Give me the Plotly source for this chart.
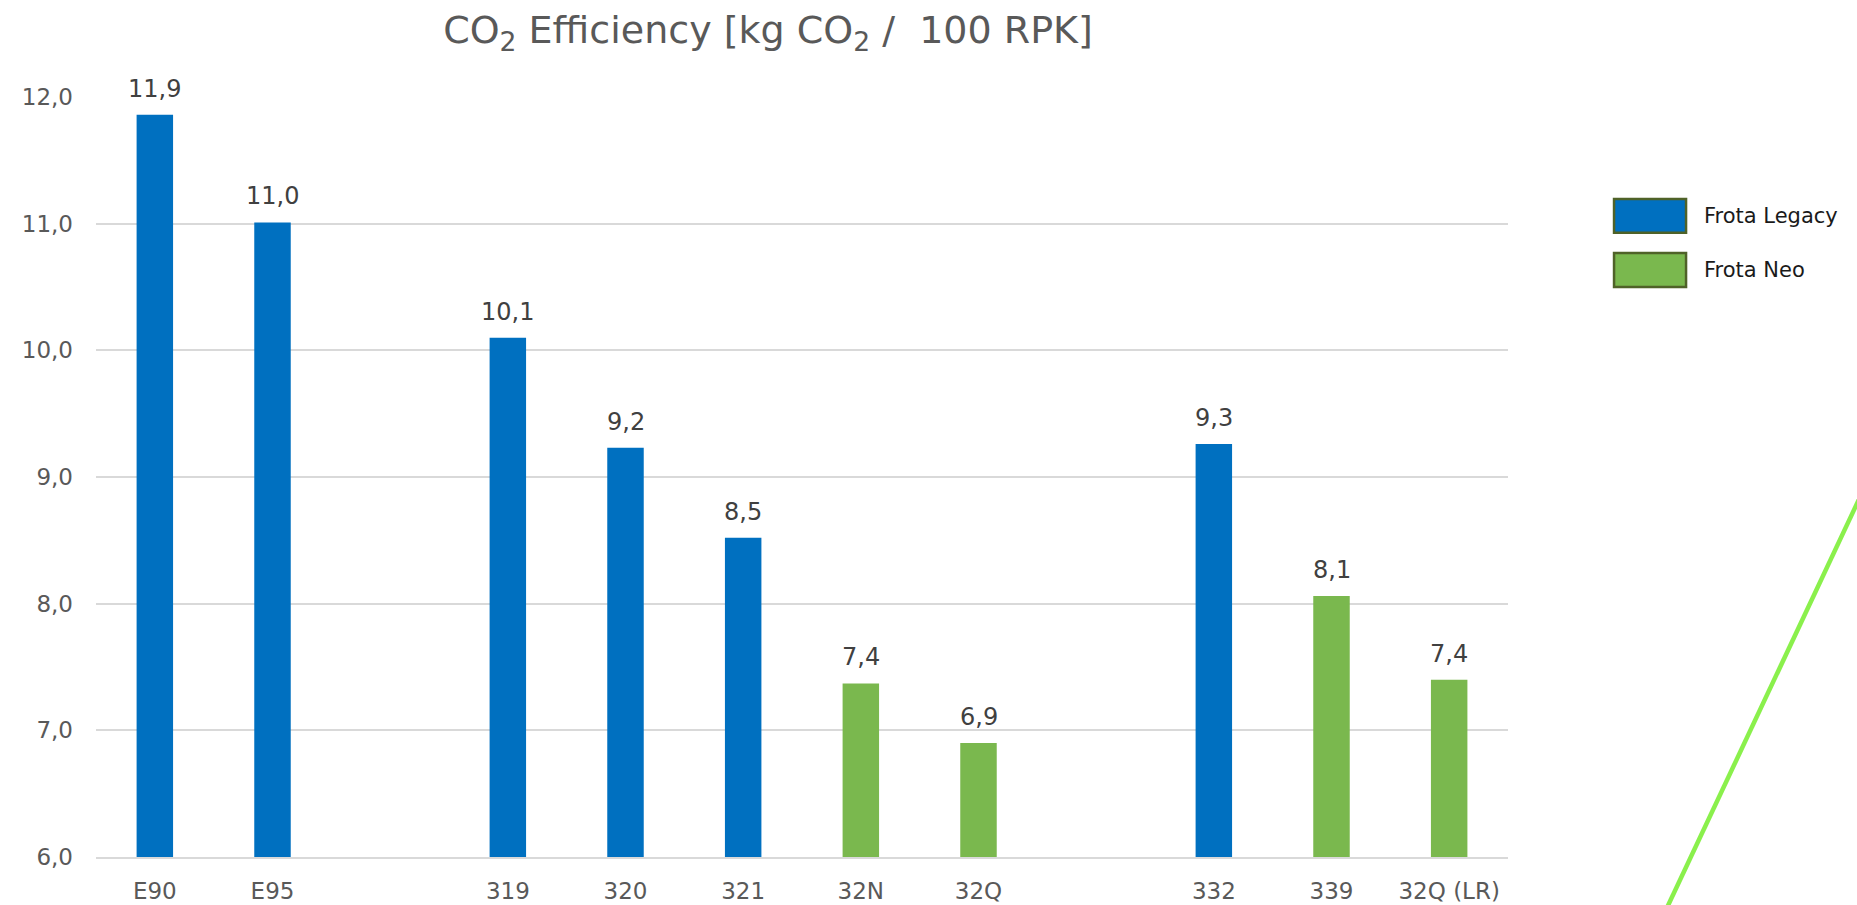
import plotly.graph_objects as go

# Category slots along the x axis (blank slots separate the aircraft families)
slots = ["E90", "E95", " ", "319", "320", "321", "32N", "32Q", "  ", "332", "339", "32Q (LR)"]

# Frota Legacy
legacy_types = ["E90", "E95", "319", "320", "321", "332"]
legacy_values = [11.86, 11.01, 10.10, 9.23, 8.52, 9.26]

# Frota Neo
neo_types = ["32N", "32Q", "339", "32Q (LR)"]
neo_values = [7.37, 6.90, 8.06, 7.40]

y_ticks = [6, 7, 8, 9, 10, 11, 12]

BLUE = "#0070C0"
GREEN = "#7AB84E"
LEGEND_EDGE = "#4F6228"
GREY_TEXT = "#595959"
GRID = "#D9D9D9"
FONT = "DejaVu Sans, Verdana, sans-serif"

fig = go.Figure()

for name, xs, ys, color in [
    ("Frota Legacy", legacy_types, legacy_values, BLUE),
    ("Frota Neo", neo_types, neo_values, GREEN),
]:
    fig.add_trace(go.Bar(
        name=name,
        x=xs,
        y=ys,
        width=0.31,
        marker=dict(color=color, line=dict(width=0)),
        showlegend=False,
    ))
    # Value labels above each bar, decimal comma; positioned by category index
    # so numeric-looking names such as "319" are not read as coordinates
    for xv, yv in zip(xs, ys):
        fig.add_annotation(
            x=slots.index(xv), y=yv, xref="x", yref="y",
            text=f"{yv:.1f}".replace(".", ","),
            showarrow=False,
            yanchor="bottom",
            yshift=10,
            font=dict(family=FONT, size=24, color="#404040"),
        )

# Only the named slots get a tick label
named_idx = [i for i, s in enumerate(slots) if s.strip()]
named_txt = [slots[i] for i in named_idx]

fig.update_layout(
    width=1857,
    height=905,
    margin=dict(l=96, r=349, t=97, b=48, autoexpand=False),
    paper_bgcolor="white",
    plot_bgcolor="white",
    barmode="overlay",
    separators=",.",
    font=dict(family=FONT, color=GREY_TEXT),
    showlegend=False,
    title=dict(
        text="CO<sub>2</sub> Efficiency [kg CO<sub>2</sub> /  100 RPK]",
        font=dict(family=FONT, size=38, color=GREY_TEXT),
        x=768 / 1857,
        xanchor="center",
        y=1 - 30 / 905,
        yanchor="middle",
    ),
    xaxis=dict(
        type="category",
        categoryorder="array",
        categoryarray=slots,
        range=[-0.5, len(slots) - 0.5],
        tickmode="array",
        tickvals=named_idx,
        ticktext=named_txt,
        automargin=False,
        showgrid=False,
        showline=True,
        linecolor=GRID,
        linewidth=2,
        ticks="",
        ticklabelstandoff=12,
        tickfont=dict(family=FONT, size=23, color=GREY_TEXT),
    ),
    yaxis=dict(
        range=[6, 12],
        tickvals=y_ticks,
        tickformat=".1f",
        automargin=False,
        showgrid=True,
        gridcolor=GRID,
        gridwidth=1.5,
        zeroline=False,
        showline=False,
        ticks="",
        ticklabelstandoff=22,
        tickfont=dict(family=FONT, size=23, color=GREY_TEXT),
    ),
)

# Legend drawn as framed swatches with labels beside the plot
legend_items = [
    ("Frota Legacy", BLUE, 0.8658, 0.8214),
    ("Frota Neo", GREEN, 0.7947, 0.7500),
]
for label, color, y_top, y_bot in legend_items:
    fig.add_shape(
        type="rect", xref="paper", yref="paper",
        x0=1.0751, x1=1.1261, y0=y_bot, y1=y_top,
        fillcolor=color, line=dict(color=LEGEND_EDGE, width=2.5),
    )
    fig.add_annotation(
        xref="paper", yref="paper",
        x=1.1375, y=(y_top + y_bot) / 2,
        xanchor="left", yanchor="middle",
        text=label, showarrow=False,
        font=dict(family=FONT, size=21, color="#1A1A1A"),
    )

# Decorative diagonal accent line at the right edge
fig.add_shape(
    type="line", xref="paper", yref="paper",
    x0=1.2670, y0=0.5434,
    x1=1.1067, y1=-0.0900,
    line=dict(color="#8AF04C", width=4.5),
)

fig.write_html("out.html")
